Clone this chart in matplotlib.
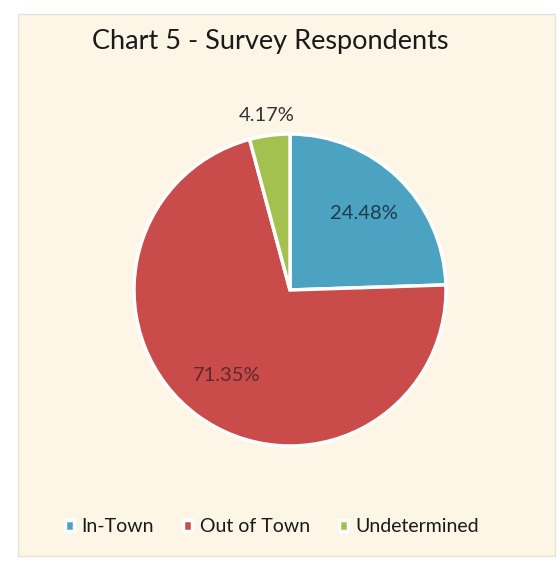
import matplotlib.pyplot as plt
from matplotlib.patches import Rectangle

labels = ["In-Town", "Out of Town", "Undetermined"]
shares = [24.48, 71.35, 4.17]
colors = ["#4ba3c1", "#c94c4b", "#a3c14f"]

plt.rcParams['font.family'] = ['Lato', 'DejaVu Sans']

fig = plt.figure(figsize=(5.6, 5.63), dpi=100)
fig.patch.set_facecolor("white")

# cream chart area with thin border
bg = Rectangle((18 / 560, 1 - 556 / 563), 537 / 560, 542 / 563,
               transform=fig.transFigure, facecolor="#fdf6e6",
               edgecolor="#e6e2d8", linewidth=1, zorder=-10)
fig.add_artist(bg)

fig.text(270 / 560, 1 - 42 / 563, "Chart 5 - Survey Respondents", ha="center", va="center",
         fontsize=19.5, color="#1a1a1a")

ax = fig.add_axes([(290 - 156) / 560, 1 - (290 + 156) / 563, 312 / 560, 312 / 563])
ax.set_facecolor("none")
wedges, texts, autotexts = ax.pie(
    shares, colors=colors, startangle=90, counterclock=False,
    autopct=lambda p: f"{p:.2f}%", pctdistance=0.68,
    wedgeprops=dict(edgecolor="white", linewidth=2.5),
    textprops=dict(fontsize=14.5, color="#1f3a4a"))
ax.set_xlim(-1, 1)
ax.set_ylim(-1, 1)
ax.set_aspect("equal")

# small slice gets its label outside
x, y = autotexts[2].get_position()
autotexts[2].set_position((x * 1.13 / 0.68, y * 1.13 / 0.68))
autotexts[2].set_color("#333333")
autotexts[1].set_color("#5a2a2a")
for t in autotexts:
    t.set_clip_on(False)

ax.legend(wedges, labels, loc="center", bbox_to_anchor=(272 / 560, 1 - 527 / 563),
          bbox_transform=fig.transFigure, ncol=3, frameon=False, fontsize=14,
          handlelength=0.45, handleheight=0.45, handletextpad=0.4, columnspacing=1.5,
          labelcolor="#1a1a1a")

fig.savefig("out.png", dpi=100, facecolor=fig.get_facecolor())
